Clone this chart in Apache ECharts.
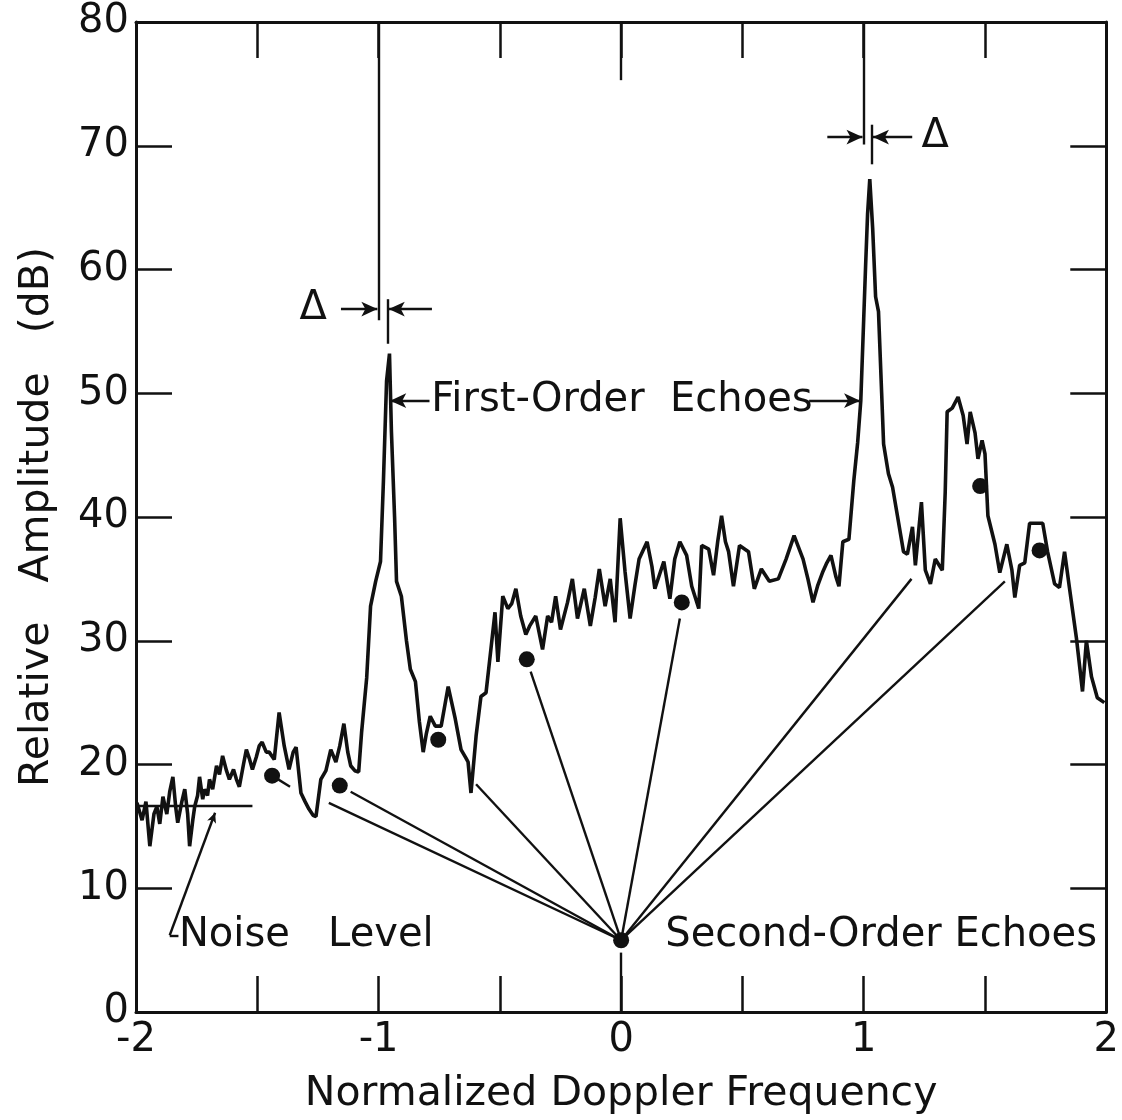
<!DOCTYPE html>
<html>
<head>
<meta charset="utf-8">
<title>Doppler spectrum</title>
<script src="https://cdn.jsdelivr.net/npm/echarts@6/dist/echarts.min.js"></script>
<style>
  html, body { margin: 0; padding: 0; background: #fff; overflow: hidden; }
  #chart { display: block; width: 1122px; height: 1120px; }
</style>
</head>
<body>
<div id="chart"></div>
<script>
// spectrum trace
const freq = [
  -1.996, -1.975, -1.959, -1.943, -1.926, -1.914, -1.902, -1.889, -1.873, -1.861,
  -1.848, -1.836, -1.828, -1.811, -1.799, -1.787, -1.779, -1.766, -1.758, -1.746,
  -1.738, -1.725, -1.717, -1.705, -1.697, -1.684, -1.668, -1.656, -1.643, -1.627,
  -1.615, -1.598, -1.586, -1.574, -1.557, -1.545, -1.533, -1.520, -1.504, -1.492,
  -1.480, -1.463, -1.451, -1.430, -1.410, -1.389, -1.369, -1.352, -1.340, -1.320,
  -1.303, -1.287, -1.270, -1.258, -1.238, -1.217, -1.197, -1.176, -1.160, -1.143,
  -1.127, -1.115, -1.098, -1.082, -1.070, -1.049, -1.033, -1.012, -0.992, -0.980,
  -0.967, -0.955, -0.947, -0.934, -0.926, -0.906, -0.885, -0.869, -0.848, -0.832,
  -0.816, -0.803, -0.787, -0.766, -0.742, -0.713, -0.684, -0.660, -0.639, -0.631,
  -0.619, -0.598, -0.578, -0.557, -0.537, -0.520, -0.508, -0.488, -0.467, -0.451,
  -0.434, -0.414, -0.393, -0.377, -0.352, -0.324, -0.303, -0.287, -0.270, -0.250,
  -0.221, -0.201, -0.180, -0.152, -0.127, -0.107, -0.090, -0.066, -0.045, -0.025,
  -0.004, 0.016, 0.037, 0.057, 0.074, 0.107, 0.127, 0.139, 0.176, 0.201,
  0.221, 0.242, 0.270, 0.291, 0.320, 0.332, 0.361, 0.381, 0.398, 0.414,
  0.430, 0.443, 0.463, 0.488, 0.525, 0.549, 0.578, 0.611, 0.648, 0.680,
  0.713, 0.750, 0.770, 0.791, 0.811, 0.832, 0.848, 0.865, 0.885, 0.898,
  0.914, 0.939, 0.959, 0.975, 0.988, 1.000, 1.008, 1.016, 1.025, 1.037,
  1.049, 1.061, 1.074, 1.082, 1.102, 1.119, 1.139, 1.164, 1.180, 1.201,
  1.213, 1.238, 1.254, 1.275, 1.295, 1.324, 1.336, 1.344, 1.365, 1.389,
  1.410, 1.426, 1.439, 1.459, 1.471, 1.488, 1.500, 1.512, 1.541, 1.561,
  1.590, 1.611, 1.623, 1.643, 1.664, 1.684, 1.713, 1.738, 1.758, 1.787,
  1.807, 1.828, 1.848, 1.877, 1.902, 1.918, 1.939, 1.963, 1.992
];
const amp = [
  16.9, 15.5, 17.0, 13.4, 16.0, 16.6, 15.2, 17.4, 16.0, 17.8,
  19.0, 16.5, 15.3, 17.0, 18.0, 16.0, 13.4, 15.5, 16.6, 17.5,
  19.0, 17.2, 18.0, 17.5, 18.8, 18.0, 19.9, 19.2, 20.7, 19.5,
  18.8, 19.6, 18.8, 18.2, 20.0, 21.2, 20.5, 19.6, 20.6, 21.5,
  21.8, 21.0, 21.0, 20.4, 24.2, 21.5, 19.6, 21.0, 21.4, 17.7,
  17.0, 16.4, 15.9, 15.8, 18.8, 19.5, 21.2, 20.2, 21.5, 23.3,
  21.0, 19.9, 19.5, 19.4, 22.6, 27.0, 32.8, 34.8, 36.4, 42.9,
  51.0, 53.2, 46.9, 40.0, 34.8, 33.6, 30.0, 27.7, 26.7, 23.5,
  21.0, 22.5, 23.9, 23.1, 23.1, 26.3, 23.7, 21.2, 20.5, 20.2,
  17.7, 22.3, 25.5, 25.8, 29.3, 32.3, 28.3, 33.6, 32.6, 33.0,
  34.2, 32.0, 30.5, 31.2, 32.0, 29.3, 32.0, 31.5, 33.6, 30.9,
  33.1, 35.0, 31.8, 34.2, 31.2, 33.5, 35.8, 32.8, 35.0, 31.5,
  39.9, 35.6, 31.8, 34.5, 36.6, 38.0, 36.0, 34.2, 36.4, 33.4,
  36.6, 38.0, 36.9, 34.4, 32.6, 37.7, 37.4, 35.3, 38.0, 40.1,
  38.0, 37.2, 34.4, 37.7, 37.2, 34.2, 35.8, 34.8, 35.0, 36.6,
  38.5, 36.6, 35.0, 33.1, 34.5, 35.6, 36.3, 36.9, 35.2, 34.4,
  38.0, 38.2, 42.9, 46.0, 49.4, 56.0, 60.4, 64.5, 67.3, 63.3,
  57.8, 56.6, 50.0, 45.9, 43.5, 42.4, 40.1, 37.2, 37.0, 39.2,
  36.1, 41.2, 35.7, 34.6, 36.6, 35.7, 42.0, 48.5, 48.8, 49.7,
  48.2, 45.9, 48.5, 46.8, 44.7, 46.2, 45.1, 40.1, 37.8, 35.5,
  37.8, 35.7, 33.5, 36.1, 36.3, 39.5, 39.5, 39.5, 37.2, 34.6,
  34.3, 37.2, 34.3, 30.2, 25.9, 30.0, 27.1, 25.4, 25.0
];

// second-order echo markers and where their leader lines start
const dotFreq = [-1.439, -1.160, -0.754, -0.389, 0.250, 1.480, 1.725];
const dotAmp = [19.1, 18.3, 22.0, 28.5, 33.1, 42.5, 37.3];
const leadFreq = [-1.205, -1.115, -0.598, -0.373, 0.242, 1.197, 1.582];
const leadAmp = [16.9, 17.8, 18.4, 27.5, 31.8, 35.0, 34.8];
const hub = [0, 5.8];

const noiseLevel = 16.7;
const noiseEnd = -1.52;

const xTickLabels = ['-2', '-1', '0', '1', '2'];

const INK = '#111';
const FONT = 'DejaVu Sans';

const chart = echarts.init(document.getElementById('chart'));

const seg = (a, b, head) => [
  {coord: a, symbol: 'none'},
  {coord: b, symbol: head ? 'arrow' : 'none', symbolSize: head || 0},
];
const HEAD = [11, 16];

const annoLines = [
  // long ticks at zero
  seg([0, 80], [0, 75.3]),
  seg([0, 0], [0, 4.8]),
  // noise level
  seg([-2, noiseLevel], [noiseEnd, noiseLevel]),
  seg([-1.861, 6.2], [-1.674, 16.1], [7, 10]),
  seg([-1.861, 6.2], [-1.825, 6.2]),
  // delta marks, left
  seg([-1, 80], [-1, 55.9]),
  seg([-0.963, 57.6], [-0.963, 54.0]),
  seg([-1.155, 56.8], [-1.005, 56.8], HEAD),
  seg([-0.78, 56.8], [-0.958, 56.8], HEAD),
  // delta marks, right
  seg([1, 80], [1, 70.1]),
  seg([1.033, 71.7], [1.033, 68.5]),
  seg([0.85, 70.7], [0.995, 70.7], HEAD),
  seg([1.2, 70.7], [1.038, 70.7], HEAD),
  // first-order arrows
  seg([-0.79, 49.4], [-0.952, 49.4], HEAD),
  seg([0.775, 49.4], [0.985, 49.4], HEAD),
  // short dash from the first marker
  seg([dotFreq[0], dotAmp[0]], [-1.365, 18.2]),
];
leadFreq.forEach((f, i) => annoLines.push(seg([f, leadAmp[i]], hub)));

const textStyle = {color: INK, fontFamily: FONT, fontSize: 40};
const nameStyle = {color: INK, fontFamily: FONT, fontSize: 41};
const note = (x, y, text, pos) => ({
  value: [x, y],
  label: Object.assign({show: true, formatter: text, position: pos || 'right', distance: 0}, textStyle),
});

const axisCommon = {
  type: 'value',
  min: -2,
  max: 2,
  interval: 0.5,
  axisLine: {show: true, onZero: false, lineStyle: {color: INK, width: 3}},
  axisTick: {show: true, inside: true, length: 36, lineStyle: {color: INK, width: 2.5}},
  splitLine: {show: false},
};
const yCommon = {
  type: 'value',
  min: 0,
  max: 80,
  interval: 10,
  axisLine: {show: true, onZero: false, lineStyle: {color: INK, width: 3}},
  axisTick: {show: true, inside: true, length: 36, lineStyle: {color: INK, width: 2.5}},
  splitLine: {show: false},
};

const option = {
  backgroundColor: '#fff',
  animation: false,
  grid: {left: 136, right: 10, top: 22, bottom: 108},
  xAxis: [
    Object.assign({}, axisCommon, {
      position: 'bottom',
      name: 'Normalized Doppler Frequency',
      nameLocation: 'middle',
      nameGap: 62,
      nameTextStyle: nameStyle,
      axisLabel: Object.assign({
        margin: 9,
        formatter: (v) => Number.isInteger(v) ? xTickLabels[v + 2] : '',
      }, textStyle),
    }),
    Object.assign({}, axisCommon, {position: 'top', axisLabel: {show: false}}),
  ],
  yAxis: [
    Object.assign({}, yCommon, {
      position: 'left',
      name: 'Relative   Amplitude   (dB)',
      nameLocation: 'middle',
      nameGap: 78,
      nameTextStyle: nameStyle,
      axisLabel: Object.assign({margin: 7}, textStyle),
    }),
    Object.assign({}, yCommon, {position: 'right', axisLabel: {show: false}}),
  ],
  series: [
    {
      name: 'spectrum',
      type: 'line',
      data: freq.map((f, i) => [f, amp[i]]),
      symbol: 'none',
      lineStyle: {color: INK, width: 3.6},
      z: 5,
    },
    {
      name: 'markers',
      type: 'scatter',
      data: dotFreq.map((f, i) => [f, dotAmp[i]]).concat([hub]),
      symbolSize: 16,
      itemStyle: {color: INK, opacity: 1},
      z: 6,
    },
    {
      name: 'notes',
      type: 'scatter',
      symbolSize: 1,
      itemStyle: {color: 'rgba(0,0,0,0)', opacity: 1},
      data: [
        note(-1.825, 6.2, 'Noise   Level'),
        note(0.18, 6.2, 'Second-Order Echoes'),
        note(-0.785, 49.4, 'First-Order  Echoes'),
        note(-1.27, 56.8, 'Δ', 'inside'),
        note(1.295, 70.7, 'Δ', 'inside'),
      ],
      markLine: {
        silent: true,
        animation: false,
        symbol: ['none', 'none'],
        label: {show: false},
        lineStyle: {color: INK, width: 2.4, type: 'solid'},
        emphasis: {disabled: true},
        data: annoLines,
      },
      z: 4,
    },
  ],
};

chart.setOption(option);
window.addEventListener('resize', chart.resize);
</script>
</body>
</html>
